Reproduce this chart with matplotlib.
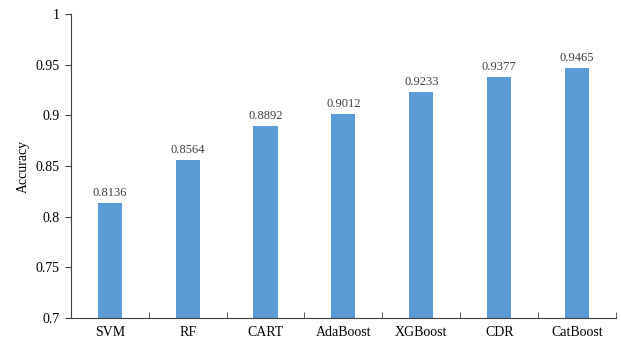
import matplotlib.pyplot as plt
import numpy as np

models = ['SVM', 'RF', 'CART', 'AdaBoost', 'XGBoost', 'CDR', 'CatBoost']
accuracy = [0.8136, 0.8564, 0.8892, 0.9012, 0.9233, 0.9377, 0.9465]
yticks = [0.7, 0.75, 0.8, 0.85, 0.9, 0.95, 1]
ytick_labels = ['0.7', '0.75', '0.8', '0.85', '0.9', '0.95', '1']

plt.rcParams['font.family'] = ['Liberation Serif', 'DejaVu Serif']

fig = plt.figure(figsize=(6.21, 3.42), dpi=100)
ax = fig.add_axes([0.114, 0.070, 0.878, 0.889])

x = np.arange(len(models))
ax.bar(x, accuracy, width=0.31, color='#5B9BD5', zorder=2)
for xi, v in zip(x, accuracy):
    ax.text(xi, v + 0.004, '%.4f' % v, ha='center', va='bottom', fontsize=9, color='#404040')

ax.set_xlim(-0.5, len(models) - 0.5)
ax.set_ylim(0.7, 1)
ax.set_yticks(yticks)
ax.set_yticklabels(ytick_labels, fontsize=10)
ax.set_xticks(x)
ax.set_xticklabels(models, fontsize=10)
ax.tick_params(axis='x', length=0, pad=6)
ax.set_xticks(np.arange(len(models) + 1) - 0.5, minor=True)
ax.tick_params(axis='x', which='minor', direction='in', length=4, color='#404040')
ax.tick_params(axis='y', direction='out', length=4, color='#404040', pad=4)
ax.set_ylabel('Accuracy', fontsize=10)

for s in ['top', 'right']:
    ax.spines[s].set_visible(False)
for s in ['left', 'bottom']:
    ax.spines[s].set_color('#404040')
    ax.spines[s].set_linewidth(0.8)

plt.savefig('out.png', dpi=100)
